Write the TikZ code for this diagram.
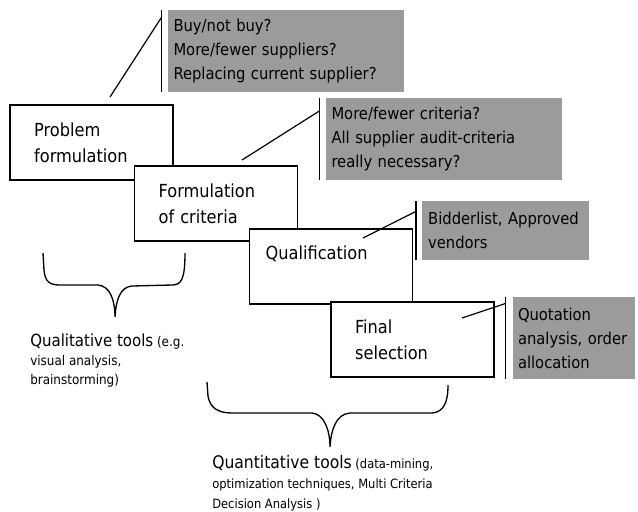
\documentclass[tikz,border=0pt]{standalone}
\usepackage{fontspec}
\setmainfont{DejaVu Sans Condensed}
\definecolor{calloutgray}{RGB}{155,155,155}
\tikzset{
  stagebox/.style={draw, line width=1.1pt, fill=white, minimum width=122pt, minimum height=56pt,
    inner xsep=18pt, text width=86pt, align=left, font=\fontsize{13.5}{19.5}\selectfont},
  callout/.style={fill=calloutgray, inner xsep=4.5pt, inner ysep=0pt, text width=#1,
    align=left, font=\fontsize{12.3}{18}\selectfont},
  bar/.style={line width=1pt},
  link/.style={line width=0.9pt},
  brace/.style={line width=1pt},
  toolnote/.style={inner sep=0pt, anchor=north west, align=left},
}
\begin{document}
\begin{tikzpicture}[x=0.75pt,y=-0.75pt]
\useasboundingbox (0,0) rectangle (638,511);

% process steps
\node[stagebox] (prob) at (91.5,142.5) {Problem\\formulation};
\node[stagebox] (crit) at (216,203.5) {Formulation\\of criteria};
\node[stagebox, inner xsep=12pt, text width=98pt] (qual) at (331,266.5) {Qualification\\[2pt]~};
\node[stagebox] (final) at (412.5,339.5) {Final\\selection};

% questions per step
\node[callout=168pt, minimum height=61.5pt] (g1) at (285.5,51) {Buy/not buy?\\More/fewer suppliers?\\Replacing current supplier?};
\node[callout=168pt, minimum height=61.5pt] (g2) at (443.5,139) {More/fewer criteria?\\All supplier audit-criteria\\really necessary?};
\node[callout=116pt, minimum height=44.25pt] (g3) at (505.5,230.5) {Bidderlist, Approved\\vendors};
\node[callout=84pt, minimum height=61.5pt, inner xsep=4pt] (g4) at (574,338) {Quotation\\analysis, order\\allocation};

\draw[bar] ([xshift=-4.5pt]g1.north west) -- ([xshift=-4.5pt]g1.south west);
\draw[bar] ([xshift=-4.5pt]g2.north west) -- ([xshift=-4.5pt]g2.south west);
\draw[bar] ([xshift=-4.5pt]g3.north west) -- ([xshift=-4.5pt]g3.south west);
\draw[bar] ([xshift=-5pt]g4.north west) -- ([xshift=-5pt]g4.south west);

\coordinate (p1) at (110,97);
\coordinate (p2) at (242,160);
\coordinate (p3) at (363,238);
\coordinate (p4) at (462,318);
\coordinate (e1) at ([xshift=-4.5pt,yshift=-6pt]g1.north west);
\coordinate (e2) at ([xshift=-4.5pt,yshift=-10pt]g2.north west);
\coordinate (e3) at ([xshift=-4.5pt,yshift=-8pt]g3.north west);
\coordinate (e4) at ([xshift=-5pt,yshift=-5pt]g4.north west);
\draw[link] (p1) -- (e1);
\draw[link] (p2) -- (e2);
\draw[link] (p3) -- (e3);
\draw[link] (p4) -- (e4);

% braces
\draw[brace] (43,253) -- (44,270) .. controls (45,282) and (50,285) .. (60,285) -- (98,285)
  .. controls (110,286) and (115,300) .. (115,317)
  .. controls (116,300) and (120,287) .. (132,286) -- (172,285)
  .. controls (181,285) and (185,280) .. (185,253);
\draw[brace] (207,382) -- (208,396) .. controls (210,408) and (218,413) .. (232,413) -- (312,413)
  .. controls (324,414) and (330,430) .. (330,447)
  .. controls (331,430) and (336,414) .. (350,413) -- (432,413)
  .. controls (444,412) and (448,402) .. (448,385);

% tool labels
\node[toolnote, font=\fontsize{10}{14}\selectfont] (qlt) at (30,334)
  {{\fontsize{12.5}{14}\selectfont Qualitative tools} (e.g.\\visual analysis,\\brainstorming)};
\node[toolnote, font=\fontsize{9.6}{15}\selectfont] (qnt) at (212,455)
  {{\fontsize{13}{15}\selectfont Quantitative tools} (data-mining,\\optimization techniques, Multi Criteria\\Decision Analysis )};
\end{tikzpicture}
\end{document}
